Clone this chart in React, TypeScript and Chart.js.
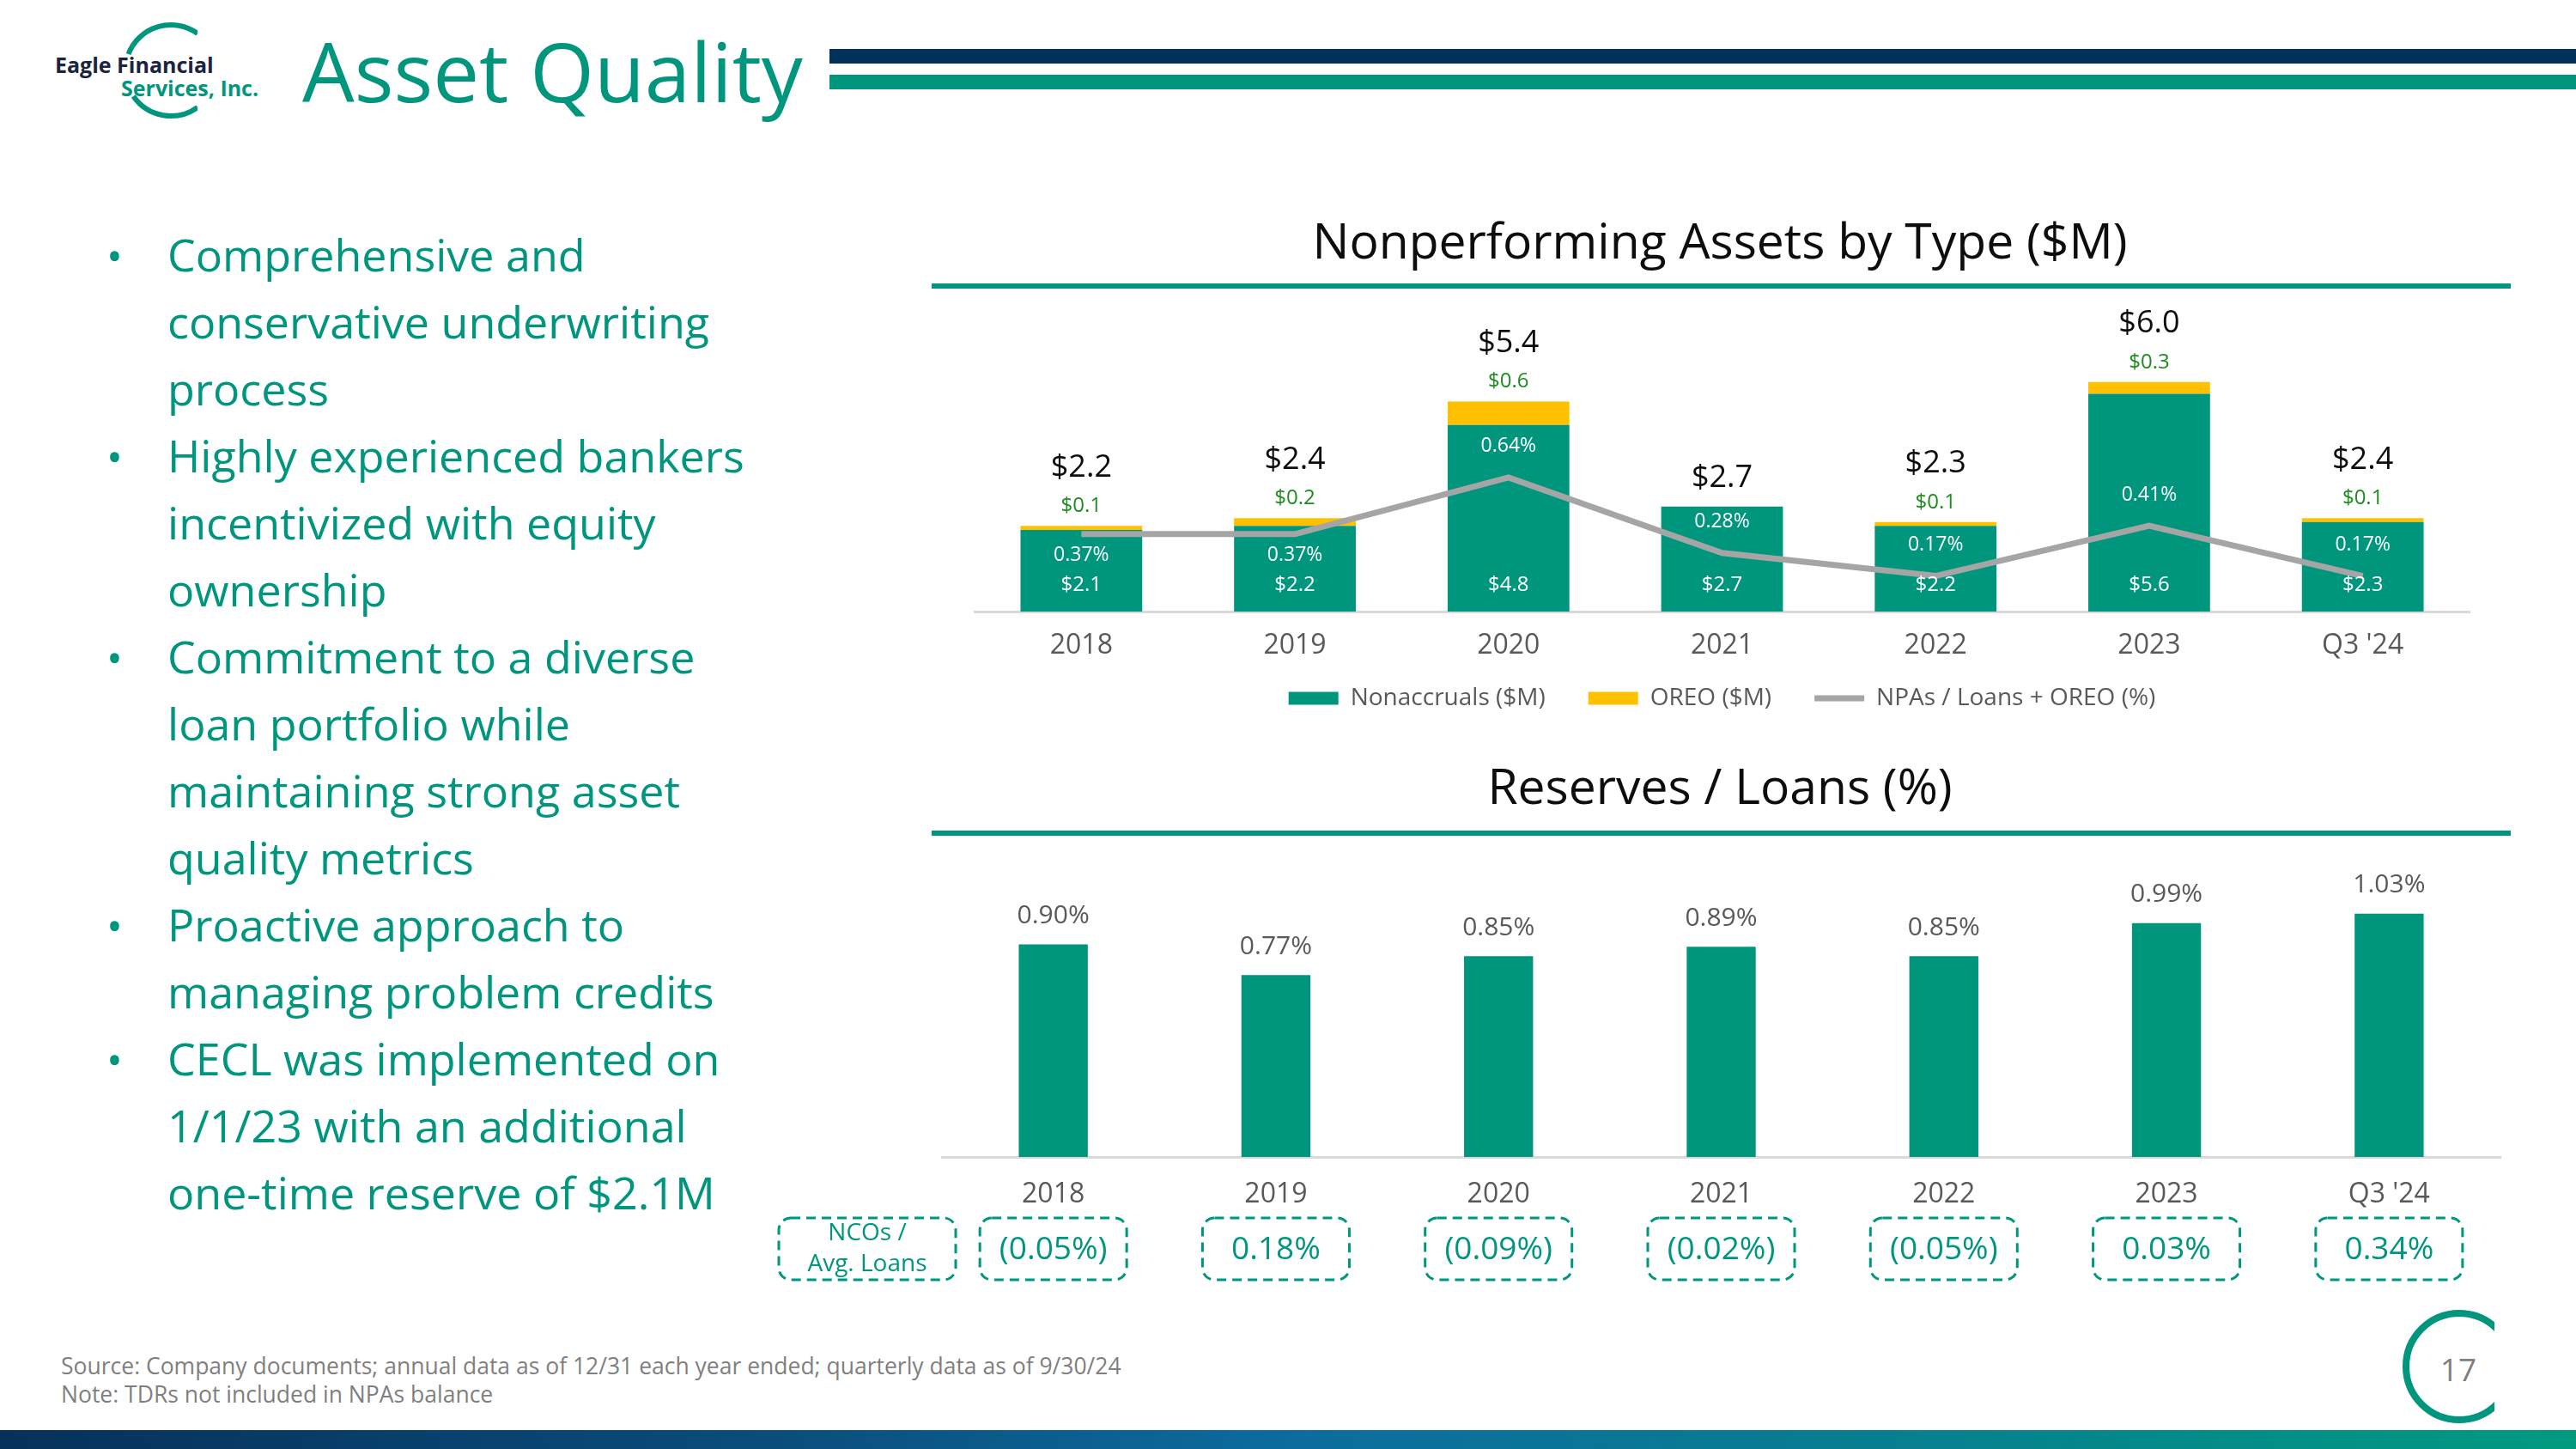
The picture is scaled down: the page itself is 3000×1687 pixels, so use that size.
import React, { useEffect, useRef } from "react";
import { Chart, registerables } from "chart.js";

Chart.register(...registerables);

// ---- data ----
const categories = ["2018", "2019", "2020", "2021", "2022", "2023", "Q3 '24"];
const nonaccruals = [2.1, 2.2, 4.8, 2.7, 2.2, 5.6, 2.3];
const oreo = [0.1, 0.2, 0.6, 0.0, 0.1, 0.3, 0.1];
const npaTotals = [2.2, 2.4, 5.4, 2.7, 2.3, 6.0, 2.4];
const npaRatio = [0.37, 0.37, 0.64, 0.28, 0.17, 0.41, 0.17];
const reserveRatio = [0.9, 0.77, 0.85, 0.89, 0.85, 0.99, 1.03];
const ncoRatio = [-0.05, 0.18, -0.09, -0.02, -0.05, 0.03, 0.34];

const bullets = [
  ["Comprehensive and", "conservative underwriting", "process"],
  ["Highly experienced bankers", "incentivized with equity", "ownership"],
  ["Commitment to a diverse", "loan portfolio while", "maintaining strong asset", "quality metrics"],
  ["Proactive approach to", "managing problem credits"],
  ["CECL was implemented on", "1/1/23 with an additional", "one-time reserve of $2.1M"],
];

// ---- styling ----
const TEAL = "#00967E";
const NAVY = "#01305A";
const GOLD = "#FFC000";
const LINE_GRAY = "#A5A5A5";
const LABEL_GRAY = "#595959";
const FONT = '"Open Sans", "DejaVu Sans", sans-serif';

Chart.defaults.font.family = FONT;

const money = (v: number) => `$${v.toFixed(1)}`;
const pct = (v: number) => `${v.toFixed(2)}%`;
const ncoText = (v: number) => (v < 0 ? `(${Math.abs(v).toFixed(2)}%)` : `${v.toFixed(2)}%`);

// Labels for the nonperforming assets chart: values inside bars, OREO and totals above
const npaLabels = {
  id: "npaLabels",
  afterDatasetsDraw(chart: any) {
    const { ctx, chartArea, scales } = chart;
    const x = scales.x;
    const y = scales.y;
    const y1 = scales.y1;
    ctx.save();
    ctx.textAlign = "center";
    ctx.textBaseline = "middle";
    categories.forEach((_, i) => {
      const cx = x.getPixelForValue(i);
      const accTop = y.getPixelForValue(nonaccruals[i]);
      const stackTop = y.getPixelForValue(nonaccruals[i] + oreo[i]);

      ctx.fillStyle = "#FFFFFF";
      ctx.font = `24px ${FONT}`;
      ctx.fillText(money(nonaccruals[i]), cx, chartArea.bottom - 31);

      const ly = y1.getPixelForValue(npaRatio[i]);
      const above = ly - 48 > accTop;
      ctx.font = `23px ${FONT}`;
      ctx.fillText(pct(npaRatio[i]), cx, above ? ly - 36 : ly + 25);

      if (oreo[i] > 0) {
        ctx.fillStyle = "#1E8C1E";
        ctx.font = `24px ${FONT}`;
        ctx.fillText(money(oreo[i]), cx, stackTop - 23);
      }
      ctx.fillStyle = "#0D0D0D";
      ctx.font = `36px ${FONT}`;
      ctx.fillText(money(npaTotals[i]), cx, stackTop - (oreo[i] > 0 ? 68 : 33));
    });
    ctx.restore();
  },
};

// Keeps the legend row close under the category labels
const legendLift = {
  id: "legendLift",
  afterLayout(chart: any) {
    const lg = chart.legend;
    if (lg) {
      lg.top -= 23;
      lg.bottom -= 23;
    }
  },
};

// Percent labels above the reserve bars
const reserveLabels = {
  id: "reserveLabels",
  afterDatasetsDraw(chart: any) {
    const { ctx, scales } = chart;
    ctx.save();
    ctx.textAlign = "center";
    ctx.textBaseline = "middle";
    ctx.fillStyle = LABEL_GRAY;
    ctx.font = `30px ${FONT}`;
    reserveRatio.forEach((v, i) => {
      ctx.fillText(pct(v), scales.x.getPixelForValue(i), scales.y.getPixelForValue(v) - 33);
    });
    ctx.restore();
  },
};

// Dashed boxes with net charge-offs under each category
const ncoBoxes = {
  id: "ncoBoxes",
  afterDraw(chart: any) {
    const { ctx, chartArea, scales } = chart;
    const top = chartArea.bottom + 71;
    const h = 72;
    const w = 171;
    ctx.save();
    ctx.strokeStyle = TEAL;
    ctx.fillStyle = TEAL;
    ctx.lineWidth = 3;
    ctx.setLineDash([11, 7]);
    ctx.textAlign = "center";
    ctx.textBaseline = "middle";

    const lx = chartArea.left - 190;
    const lw = 206;
    ctx.beginPath();
    ctx.roundRect(lx, top, lw, h, 14);
    ctx.stroke();
    ctx.font = `28px ${FONT}`;
    ctx.fillText("NCOs /", lx + lw / 2, top + 18);
    ctx.fillText("Avg. Loans", lx + lw / 2, top + 54);

    ctx.font = `37px ${FONT}`;
    ncoRatio.forEach((v, i) => {
      const cx = scales.x.getPixelForValue(i);
      ctx.beginPath();
      ctx.roundRect(cx - w / 2, top, w, h, 14);
      ctx.stroke();
      ctx.fillText(ncoText(v), cx, top + h / 2 + 1);
    });
    ctx.restore();
  },
};

function makeNpaConfig(): any {
  return {
    type: "bar",
    data: {
      labels: categories,
      datasets: [
        {
          type: "bar",
          label: "Nonaccruals ($M)",
          data: nonaccruals,
          backgroundColor: TEAL,
          stack: "npa",
          order: 2,
          barPercentage: 0.57,
          categoryPercentage: 1,
          pointStyle: "rect",
          yAxisID: "y",
        },
        {
          type: "bar",
          label: "OREO ($M)",
          data: oreo,
          backgroundColor: GOLD,
          stack: "npa",
          order: 2,
          barPercentage: 0.57,
          categoryPercentage: 1,
          pointStyle: "rect",
          yAxisID: "y",
        },
        {
          type: "line",
          label: "NPAs / Loans + OREO (%)",
          data: npaRatio,
          borderColor: LINE_GRAY,
          borderWidth: 7,
          pointRadius: 0,
          pointHoverRadius: 0,
          pointStyle: "line",
          pointBorderColor: LINE_GRAY,
          pointBackgroundColor: LINE_GRAY,
          pointBorderWidth: 7,
          yAxisID: "y1",
          order: 1,
          tension: 0,
        },
      ],
    },
    options: {
      responsive: false,
      animation: false,
      layout: { padding: { left: 50, right: 48, top: 50, bottom: 18 }, autoPadding: false },
      plugins: {
        legend: {
          position: "bottom",
          labels: {
            usePointStyle: true,
            pointStyleWidth: 58,
            boxHeight: 15,
            font: { size: 28 },
            color: LABEL_GRAY,
            padding: 50,
            sort: (a: any, b: any) => a.datasetIndex - b.datasetIndex,
          },
        },
        tooltip: { enabled: false },
      },
      scales: {
        x: {
          stacked: true,
          grid: { display: false, drawTicks: false },
          border: { display: true, color: "#D9D9D9", width: 3 },
          ticks: { font: { size: 32 }, color: LABEL_GRAY, padding: 21 },
          afterFit: (s: any) => {
            s.height = 60;
          },
        },
        y: { stacked: true, display: false, min: 0, max: 7 },
        y1: { display: false, min: 0, max: 1.3, position: "right" },
      },
    },
    plugins: [npaLabels, legendLift],
  };
}

function makeReserveConfig(): any {
  return {
    type: "bar",
    data: {
      labels: categories,
      datasets: [
        {
          label: "Reserves / Loans (%)",
          data: reserveRatio,
          backgroundColor: TEAL,
          barPercentage: 0.31,
          categoryPercentage: 1,
        },
      ],
    },
    options: {
      responsive: false,
      animation: false,
      layout: { padding: { left: 197, right: 12, top: 32, bottom: 83 }, autoPadding: false },
      plugins: { legend: { display: false }, tooltip: { enabled: false } },
      scales: {
        x: {
          grid: { display: false, drawTicks: false },
          border: { display: true, color: "#D9D9D9", width: 3 },
          ticks: { font: { size: 32 }, color: LABEL_GRAY, padding: 25 },
          afterFit: (s: any) => {
            s.height = 70;
          },
        },
        y: { display: false, min: 0, max: 1.2 },
      },
    },
    plugins: [reserveLabels, ncoBoxes],
  };
}

function ChartCanvas(props: { make: () => any; left: number; top: number; width: number; height: number }) {
  const ref = useRef<HTMLCanvasElement>(null);
  useEffect(() => {
    const chart = new Chart(ref.current as HTMLCanvasElement, props.make());
    return () => chart.destroy();
  }, []);
  return (
    <canvas
      ref={ref}
      width={props.width}
      height={props.height}
      style={{ position: "absolute", left: props.left, top: props.top, width: props.width, height: props.height }}
    />
  );
}

// Text placed by its baseline (Open Sans metrics, line-height 1)
function Txt(props: {
  x: number;
  base: number;
  size: number;
  color: string;
  weight?: number;
  center?: boolean;
  children: React.ReactNode;
}) {
  const { x, base, size, color, weight = 400, center, children } = props;
  return (
    <div
      style={{
        position: "absolute",
        left: x,
        top: base - size * 0.888,
        fontFamily: FONT,
        fontSize: size,
        lineHeight: `${size}px`,
        fontWeight: weight,
        color,
        whiteSpace: "nowrap",
        transform: center ? "translateX(-50%)" : undefined,
      }}
    >
      {children}
    </div>
  );
}

const polar = (cx: number, cy: number, r: number, deg: number) => [
  cx + r * Math.cos((deg * Math.PI) / 180),
  cy + r * Math.sin((deg * Math.PI) / 180),
];
function arcPath(cx: number, cy: number, r: number, from: number, to: number) {
  const [x1, y1] = polar(cx, cy, r, from);
  const [x2, y2] = polar(cx, cy, r, to);
  const large = Math.abs(from - to) > 180 ? 1 : 0;
  const sweep = to > from ? 1 : 0;
  return `M ${x1} ${y1} A ${r} ${r} 0 ${large} ${sweep} ${x2} ${y2}`;
}

export default function App() {
  let lineIndex = 0;
  const bulletRows: React.ReactNode[] = [];
  bullets.forEach((group, g) => {
    group.forEach((line, k) => {
      const base = 316 + 78 * lineIndex;
      if (k === 0) {
        bulletRows.push(
          <Txt key={`b${g}`} x={124} base={base} size={50} color={TEAL}>
            •
          </Txt>
        );
      }
      bulletRows.push(
        <Txt key={`l${g}-${k}`} x={195} base={base} size={52} color={TEAL}>
          {line}
        </Txt>
      );
      lineIndex++;
    });
  });

  return (
    <div
      style={{
        position: "absolute",
        left: 0,
        top: 0,
        width: 3000,
        height: 1687,
        background: "#FFFFFF",
        overflow: "hidden",
      }}
    >
      {/* logo */}
      <svg width={230} height={160} style={{ position: "absolute", left: 0, top: 0 }}>
        <path d={arcPath(199, 82, 53, -54, -159)} stroke={TEAL} strokeWidth={6} fill="none" />
        <path d={arcPath(199, 82, 53, 145.5, 54)} stroke={TEAL} strokeWidth={6} fill="none" />
      </svg>
      <Txt x={64} base={85} size={25} weight={700} color="#1B2440">
        Eagle Financial
      </Txt>
      <Txt x={141} base={112} size={25} weight={700} color={TEAL}>
        Services, Inc.
      </Txt>

      {/* page title and header rules */}
      <Txt x={352} base={119} size={96} color={TEAL}>
        Asset Quality
      </Txt>
      <div style={{ position: "absolute", left: 966, top: 57, width: 2034, height: 17, background: NAVY }} />
      <div style={{ position: "absolute", left: 966, top: 87, width: 2034, height: 17, background: TEAL }} />

      {/* bullets */}
      {bulletRows}

      {/* chart titles */}
      <Txt x={2003} base={302} size={57} color="#0D0D0D" center>
        Nonperforming Assets by Type ($M)
      </Txt>
      <div style={{ position: "absolute", left: 1085, top: 330, width: 1839, height: 6, background: TEAL }} />
      <ChartCanvas make={makeNpaConfig} left={1085} top={345} width={1839} height={533} />

      <Txt x={2003} base={937} size={57} color="#0D0D0D" center>
        Reserves / Loans (%)
      </Txt>
      <div style={{ position: "absolute", left: 1085, top: 967, width: 1839, height: 6, background: TEAL }} />
      <ChartCanvas make={makeReserveConfig} left={900} top={985} width={2024} height={515} />

      {/* footer */}
      <Txt x={71} base={1601} size={26.5} color="#7F7F7F">
        Source: Company documents; annual data as of 12/31 each year ended; quarterly data as of 9/30/24
      </Txt>
      <Txt x={71} base={1634} size={26.5} color="#7F7F7F">
        Note: TDRs not included in NPAs balance
      </Txt>
      <svg width={125} height={170} style={{ position: "absolute", left: 2780, top: 1510 }}>
        <circle cx={84} cy={81} r={62} stroke={TEAL} strokeWidth={8} fill="none" />
      </svg>
      <Txt x={2863} base={1608} size={37} color="#7F7F7F" center>
        17
      </Txt>
      <div
        style={{
          position: "absolute",
          left: 0,
          top: 1665,
          width: 3000,
          height: 22,
          background: "linear-gradient(90deg, #06315A 0%, #0A4D7C 30%, #0C6C9E 50%, #07808F 75%, #009A7F 100%)",
        }}
      />
    </div>
  );
}
